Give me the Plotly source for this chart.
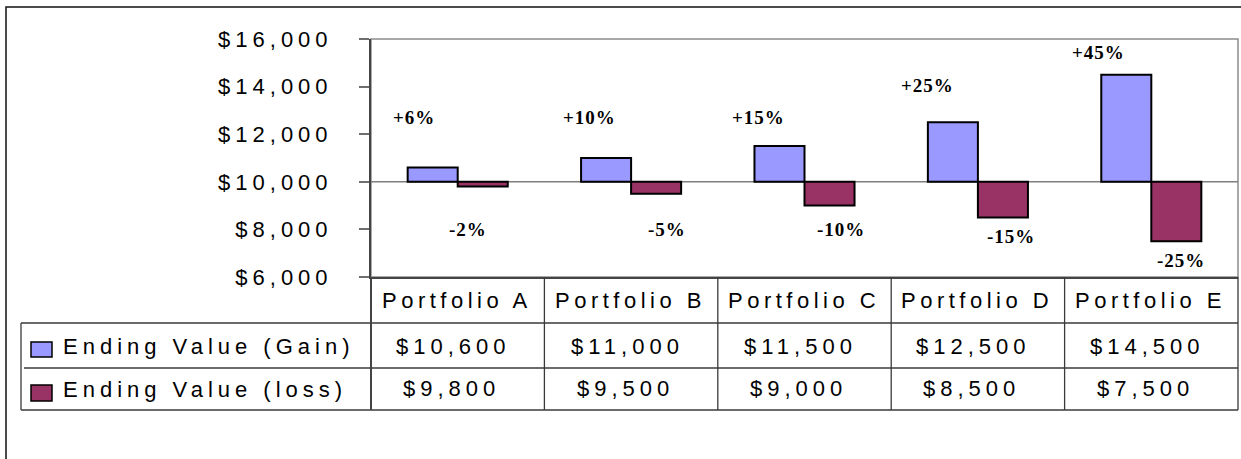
import plotly.graph_objects as go

# ---------------- data ----------------
categories = ["Portfolio A", "Portfolio B", "Portfolio C", "Portfolio D", "Portfolio E"]
series_names = ["Ending Value (Gain)", "Ending Value (loss)"]
gain_values = [10600, 11000, 11500, 12500, 14500]
loss_values = [9800, 9500, 9000, 8500, 7500]
start_value = 10000
y_ticks = [6000, 8000, 10000, 12000, 14000, 16000]

# label placement (pixel offsets from bar end / category centre)
gain_label_dx = [-44, -42, -46, -50, -53]
gain_label_dy = [50, 41, 29, 37, 22]
loss_label_dx = [10, 36, 36, 33, 30]
loss_label_dy = [-43, -36, -24, -19, -19]

# ---------------- styles ----------------
W, H = 1241, 459
L, R, T, B = 371, 1238, 39, 277  # plot area in px
gain_color = "#9999FF"
loss_color = "#993366"
sans = "Liberation Sans, Arial, sans-serif"
serif = "Liberation Serif, Times New Roman, serif"
LS = 5


def spaced(s, ls=LS):
    return f'<span style="letter-spacing:{ls}px">{s}</span>'


def px_x(px):
    return (px - L) / (R - L)


def px_y(py):
    return (B - py) / (B - T)


fig = go.Figure()
fig.add_trace(go.Bar(
    x=categories, y=[v - start_value for v in gain_values], base=start_value,
    name=series_names[0], marker=dict(color=gain_color, line=dict(color="black", width=2)),
    showlegend=False,
))
fig.add_trace(go.Bar(
    x=categories, y=[v - start_value for v in loss_values], base=start_value,
    name=series_names[1], marker=dict(color=loss_color, line=dict(color="black", width=2)),
    showlegend=False,
))

shapes = []
# outer frame
shapes.append(dict(type="rect", xref="paper", yref="paper",
                   x0=px_x(6), x1=px_x(1300), y0=px_y(7), y1=px_y(520),
                   line=dict(color="#111111", width=1.5), layer="below"))
# plot area border (gray)
shapes.append(dict(type="rect", xref="paper", yref="paper", x0=0, x1=1, y0=0, y1=1,
                   line=dict(color="#8c8c8c", width=1.5), layer="below"))
# base line at start value
shapes.append(dict(type="line", xref="paper", yref="y", x0=0, x1=1,
                   y0=start_value, y1=start_value,
                   line=dict(color="#7f7f7f", width=1.5), layer="below"))

tbl_line = dict(color="#3a3a3a", width=1.3)
# table horizontal lines
shapes.append(dict(type="line", xref="paper", yref="paper", x0=px_x(21), x1=1,
                   y0=px_y(323), y1=px_y(323), line=tbl_line))
shapes.append(dict(type="line", xref="paper", yref="paper", x0=px_x(24), x1=1,
                   y0=px_y(368), y1=px_y(368), line=tbl_line))
shapes.append(dict(type="line", xref="paper", yref="paper", x0=px_x(21), x1=1,
                   y0=px_y(410), y1=px_y(410), line=tbl_line))
# table vertical lines
shapes.append(dict(type="line", xref="paper", yref="paper", x0=px_x(21), x1=px_x(21),
                   y0=px_y(323), y1=px_y(410), line=tbl_line))
shapes.append(dict(type="line", xref="paper", yref="paper", x0=0, x1=0,
                   y0=0, y1=px_y(410), line=dict(color="#444444", width=2)))
shapes.append(dict(type="line", xref="paper", yref="paper", x0=1, x1=1,
                   y0=0, y1=px_y(410), line=tbl_line))
for i in range(len(categories) - 1):
    shapes.append(dict(type="line", xref="x", yref="paper", x0=i + 0.5, x1=i + 0.5,
                       y0=0, y1=px_y(410), line=tbl_line))
# legend keys in table
for (top, bot), col in zip([(342, 357), (385, 401)], [gain_color, loss_color]):
    shapes.append(dict(type="rect", xref="paper", yref="paper",
                       x0=px_x(31), x1=px_x(52), y0=px_y(bot), y1=px_y(top),
                       fillcolor=col, line=dict(color="black", width=1.5)))

annotations = []
# data labels
lfont = dict(family=serif, size=19, color="black")
for i, c in enumerate(categories):
    gp = round((gain_values[i] - start_value) / start_value * 100)
    lp = round((loss_values[i] - start_value) / start_value * 100)
    annotations.append(dict(x=c, y=gain_values[i], xref="x", yref="y",
                            text=spaced(f"<b>{gp:+d}%</b>", 1), showarrow=False,
                            xshift=gain_label_dx[i], yshift=gain_label_dy[i],
                            xanchor="center", yanchor="middle", font=lfont))
    annotations.append(dict(x=c, y=loss_values[i], xref="x", yref="y",
                            text=spaced(f"<b>{lp:+d}%</b>", 1), showarrow=False,
                            xshift=loss_label_dx[i], yshift=loss_label_dy[i],
                            xanchor="center", yanchor="middle", font=lfont))
# table header and values
tfont = dict(family=sans, size=22, color="black")
for i, c in enumerate(categories):
    annotations.append(dict(x=c, y=px_y(300), xref="x", yref="paper", text=spaced(c, 4.5),
                            showarrow=False, font=tfont, xshift=-1,
                            xanchor="center", yanchor="middle"))
    annotations.append(dict(x=c, y=px_y(346), xref="x", yref="paper",
                            text=spaced(f"${gain_values[i]:,}"), showarrow=False, font=tfont,
                            xshift=-4, xanchor="center", yanchor="middle"))
    annotations.append(dict(x=c, y=px_y(388), xref="x", yref="paper",
                            text=spaced(f"${loss_values[i]:,}"), showarrow=False, font=tfont,
                            xshift=-6, xanchor="center", yanchor="middle"))
for name, yc in zip(series_names, [346, 389]):
    annotations.append(dict(x=px_x(61), y=px_y(yc), xref="paper", yref="paper",
                            text=spaced(name), showarrow=False, font=tfont,
                            xanchor="left", yanchor="middle"))

fig.update_layout(
    width=W, height=H,
    margin=dict(l=L, r=W - R, t=T, b=H - B, pad=0),
    paper_bgcolor="white", plot_bgcolor="white",
    barmode="group", bargap=0.423, bargroupgap=0,
    shapes=shapes, annotations=annotations,
    xaxis=dict(showticklabels=False, ticks="", showgrid=False, zeroline=False,
               showline=True, linecolor="#444444", linewidth=2,
               range=[-0.5, len(categories) - 0.5], fixedrange=True),
    yaxis=dict(range=[y_ticks[0], y_ticks[-1]], tickvals=y_ticks,
               ticktext=[spaced(f"${v:,}") for v in y_ticks],
               tickfont=dict(family=sans, size=22, color="black"),
               ticks="outside", ticklen=10, tickcolor="#6f6f6f", tickwidth=1.5,
               showgrid=False, zeroline=False, showline=True,
               linecolor="#444444", linewidth=2, ticklabelstandoff=22),
)

fig.write_html("out.html")
